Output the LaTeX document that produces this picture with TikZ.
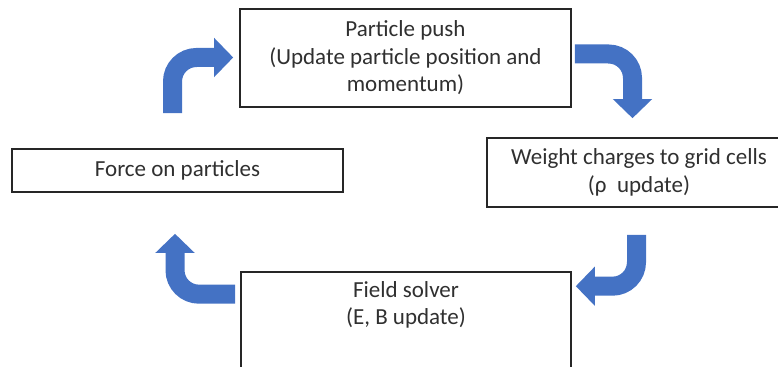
\documentclass[tikz,border=0pt]{standalone}
\usepackage{fontspec}
\setmainfont{Carlito}
\usepackage{tikz}
\usetikzlibrary{arrows.meta,calc}
\definecolor{pcBlue}{HTML}{4472C4}
\definecolor{pcLine}{HTML}{262626}
\definecolor{pcText}{HTML}{303030}

\begin{document}
\begin{tikzpicture}[x=0.5pt,y=-0.5pt]
\tikzset{stagebox/.style={rectangle, draw=pcLine, line width=0.8pt, fill=white,
  align=center, inner sep=0pt, text=pcText, font=\fontsize{11.5}{13.75}\selectfont},
 bendarr/.style={draw=pcBlue, line width=9.5pt, rounded corners=12pt,
  -{Triangle[width=19pt,length=9.5pt]}}}

\clip (0,0) rectangle (778,367);

\node[stagebox, minimum width=165.5pt, minimum height=49pt] (push) at (405.5,58)
 {Particle push\\(Update particle position and\\momentum)};
\node[stagebox, minimum width=152pt, minimum height=34.5pt] (weight) at (639,172.5)
 {Weight charges to grid cells\\(ρ~ update)};
\node[stagebox, minimum width=165pt, minimum height=49pt] (field) at (406,321)
 {Field solver\\(E, B update)\\\strut};
\node[stagebox, minimum width=165.5pt, minimum height=21.5pt] (force) at (177.5,170.5)
 {Force on particles};

\draw[bendarr] ($(force.north)+(-5,-35)$) |- ($(push.west)+(-6,-0.5)$);
\draw[bendarr] ($(push.east)+(3,-4)$) -| ($(weight.north)+(-6.5,-19)$);
\draw[bendarr] ($(weight.south)+(-2.5,27)$) |- ($(field.north east)+(4,15)$);
\draw[bendarr] ($(field.north west)+(-5,23)$) -| ($(force.south)+(-2.5,41)$);
\end{tikzpicture}
\end{document}
